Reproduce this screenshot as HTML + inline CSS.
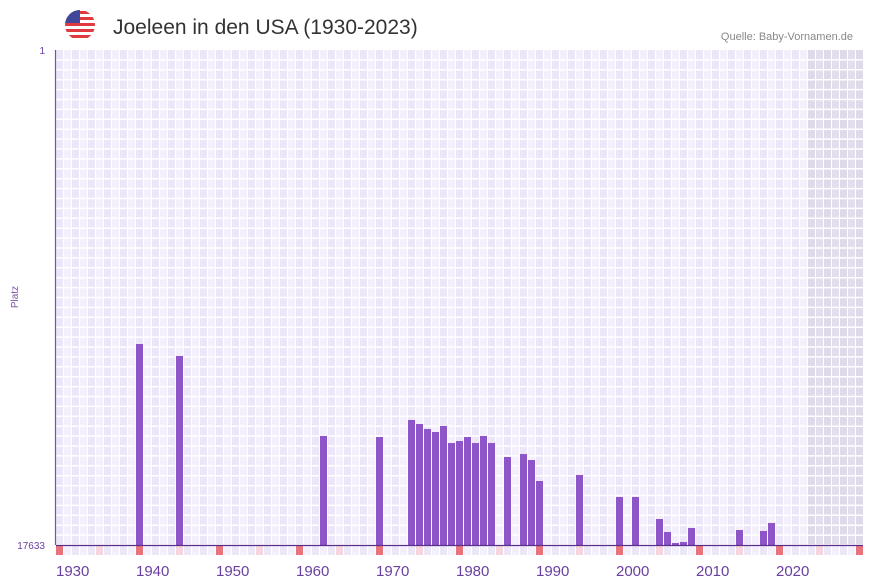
<!DOCTYPE html>
<html><head><meta charset="utf-8"><style>
body{margin:0;background:#fff;font-family:"Liberation Sans",sans-serif;}
svg{display:block}
</style></head><body>
<svg width="873" height="587" id="c">
<g>
<clipPath id="fc"><circle cx="80" cy="25" r="15"/></clipPath>
<g clip-path="url(#fc)">
<rect x="65" y="10" width="30" height="30" fill="#fff"/>
<rect x="65" y="11" width="30" height="3" fill="#e0393e"/>
<rect x="65" y="17" width="30" height="3" fill="#e0393e"/>
<rect x="65" y="23" width="30" height="3" fill="#e0393e"/>
<rect x="65" y="29" width="30" height="3" fill="#e0393e"/>
<rect x="65" y="35" width="30" height="3" fill="#e0393e"/>
<rect x="65" y="10" width="15" height="13" fill="#41479b"/>
</g></g>
<text x="113" y="34" font-size="21" fill="#333" font-family="Liberation Sans, DejaVu Sans, sans-serif">Joeleen in den USA (1930-2023)</text>
<text x="853" y="40" font-size="11" fill="#888" text-anchor="end">Quelle: Baby-Vornamen.de</text>
<g id="grid"></g>
<g id="bars"></g>
<g id="marks"></g>
<line x1="55.5" y1="50" x2="55.5" y2="545" stroke="#7a4fb0" stroke-width="1.2"/>
<line x1="56" y1="545.5" x2="863" y2="545.5" stroke="#5a2f8a" stroke-width="1.2"/>
<text x="45" y="54" font-size="10" fill="#6a3fa0" text-anchor="end">1</text>
<text x="45" y="549" font-size="10" fill="#6a3fa0" text-anchor="end">17633</text>
<text transform="translate(18,297) rotate(-90)" font-size="10" fill="#7a4fb0" text-anchor="middle">Platz</text>
<g id="xl"></g>
</svg>
<script>
const years=[1940,1945,1963,1970,1974,1975,1976,1977,1978,1979,1980,1981,1982,1983,1984,1986,1988,1989,1990,1995,2000,2002,2005,2006,2007,2008,2009,2015,2018,2019];
const ranks=[10473,10901,13750,13786,13180,13323,13501,13608,13394,14000,13929,13786,14000,13750,14000,14498,14392,14605,15353,15140,15923,15923,16707,17170,17562,17526,17027,17099,17134,16849];
const xTicks=[1930,1940,1950,1960,1970,1980,1990,2000,2010,2020];
const yMin=1,yMax=17633,y0=1930,y1=2030,lastData=2023;
const NS="http://www.w3.org/2000/svg";
const X0=56,SW=8,T=50,B=545;
const xs=y=>X0+(y-y0)*SW;
function mk(p,tag,a){const e=document.createElementNS(NS,tag);for(const k in a)e.setAttribute(k,a[k]);p.appendChild(e);return e;}
const g=document.getElementById('grid');
for(let y=y0;y<=y1;y++){
 const r=mk(g,'rect',{x:xs(y),y:T,width:SW-1,height:B-T,fill:(y>lastData?((y%2)?'#e3deec':'#dfd9ea'):((y%2)?'#f3effb':'#ece7f8'))});
 
 
}
for(let yy=T+9.9;yy<B;yy+=9.9){const l=mk(g,'line',{x1:X0,x2:863,y1:yy,y2:yy,stroke:'#fff','stroke-width':1.5});
 
 }
const b=document.getElementById('bars');
years.forEach((y,i)=>{const top=B-(yMax-ranks[i])/(yMax-yMin)*(B-T);
 const r=mk(b,'rect',{x:xs(y),y:top,width:SW-1,height:B-top,fill:'#8e55c8'});
 
 });
const m=document.getElementById('marks');
for(let y=y0;y<=y1;y++){const c=y%10===0?'#e8737a':(y%5===0?'#f5d5de':(y%2?'#f3effb':'#ece7f8'));
 const r=mk(m,'rect',{x:xs(y),y:546,width:SW-1,height:9,fill:c});
 
 }
const xl=document.getElementById('xl');
xTicks.forEach(t=>{const e=mk(xl,'text',{x:xs(t),y:576,'font-size':15,fill:'#6a3fa0'});e.textContent=t;
 
 });
</script>
</body></html>
